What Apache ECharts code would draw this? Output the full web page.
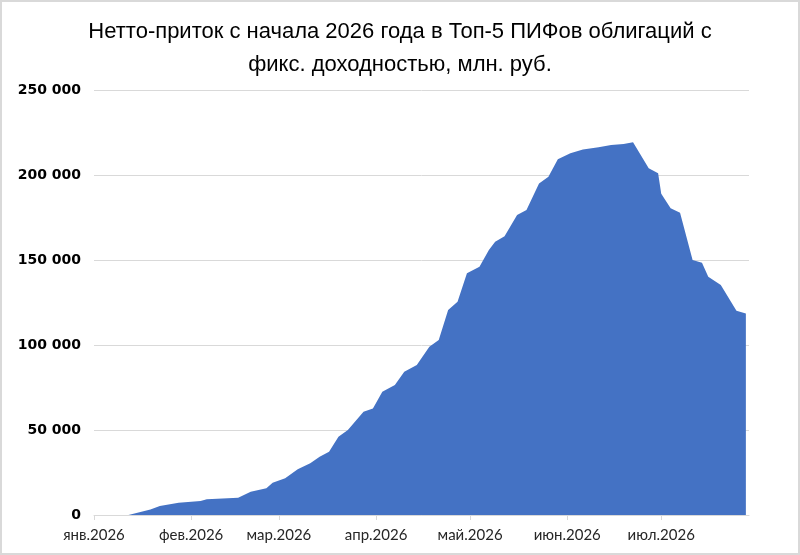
<!DOCTYPE html>
<html>
<head>
<meta charset="utf-8">
<script src="https://cdn.jsdelivr.net/npm/echarts@6/dist/echarts.min.js"></script>
<style>
  html, body { margin: 0; padding: 0; background: #fff; }
  #chart { width: 796px; height: 551px; border: 2px solid #d9d9d9; }
</style>
</head>
<body>
<div id="chart"></div>
<script>
// дни от 1 января 2026 и накопленный нетто-приток, млн руб.
const days = [0, 11, 18, 21, 27, 34, 36, 46, 50, 55, 57, 61, 65, 69, 72, 75, 78, 81, 86, 89,
  92, 96, 99, 103, 107, 110, 113, 116, 119, 123, 126, 128, 131, 135, 138, 142, 145, 148, 152, 156,
  161, 165, 169, 172, 177, 180, 181, 184, 187, 191, 194, 196, 200, 205, 208];
const values = [0, 0, 3300, 5300, 7200, 8200, 9200, 10200, 13700, 15700, 19000, 21600, 26900, 30400, 34300, 37200, 46000, 50000, 60800, 62700,
  72500, 76500, 84300, 88200, 99000, 103000, 120600, 125500, 142200, 146000, 155900, 160800, 164000, 176500, 179400, 195000, 199000, 209200, 212800, 215000,
  216300, 217600, 218200, 219200, 204000, 201000, 189000, 180400, 177800, 150000, 148400, 140200, 135300, 120200, 118500];
// начала месяцев и подписи
const monthStarts = [0, 31, 59, 90, 120, 151, 181];
const monthLabels = ['янв.2026', 'фев.2026', 'мар.2026', 'апр.2026', 'май.2026', 'июн.2026', 'июл.2026'];

const chart = echarts.init(document.getElementById('chart'));
const option = {
  title: {
    text: 'Нетто-приток с начала 2026 года в Топ-5 ПИФов облигаций с\nфикс. доходностью, млн. руб.',
    left: 'center',
    top: 8,
    textStyle: {
      fontFamily: 'Liberation Sans',
      fontWeight: 'normal',
      fontSize: 22,
      lineHeight: 33,
      color: '#000'
    }
  },
  grid: { left: 92, right: 49, top: 88, bottom: 38 },
  xAxis: {
    type: 'value',
    min: 0,
    max: 209,
    splitLine: { show: false },
    axisLine: { show: true, lineStyle: { color: '#d9d9d9' } },
    axisTick: { show: true, length: 5, lineStyle: { color: '#d9d9d9' }, customValues: monthStarts },
    axisLabel: {
      customValues: monthStarts,
      formatter: function (v) { return monthLabels[monthStarts.indexOf(v)] || ''; },
      color: '#262626',
      fontFamily: 'Lato',
      fontSize: 15,
      margin: 13
    }
  },
  yAxis: {
    type: 'value',
    min: 0,
    max: 250000,
    interval: 50000,
    axisLine: { show: false },
    axisTick: { show: false },
    splitLine: { lineStyle: { color: '#d9d9d9' } },
    axisLabel: {
      formatter: function (v) { return v === 0 ? '0' : String(v).replace(/\B(?=(\d{3})+(?!\d))/g, ' '); },
      color: '#000',
      fontFamily: 'DejaVu Sans',
      fontWeight: 'bold',
      fontSize: 14,
      margin: 13
    }
  },
  series: [{
    type: 'line',
    data: days.map((d, i) => [d, values[i]]),
    showSymbol: false,
    lineStyle: { width: 0, color: '#4472c4' },
    areaStyle: { color: '#4472c4', opacity: 1 },
    animation: false
  }]
};
chart.setOption(option);
</script>
</body>
</html>
